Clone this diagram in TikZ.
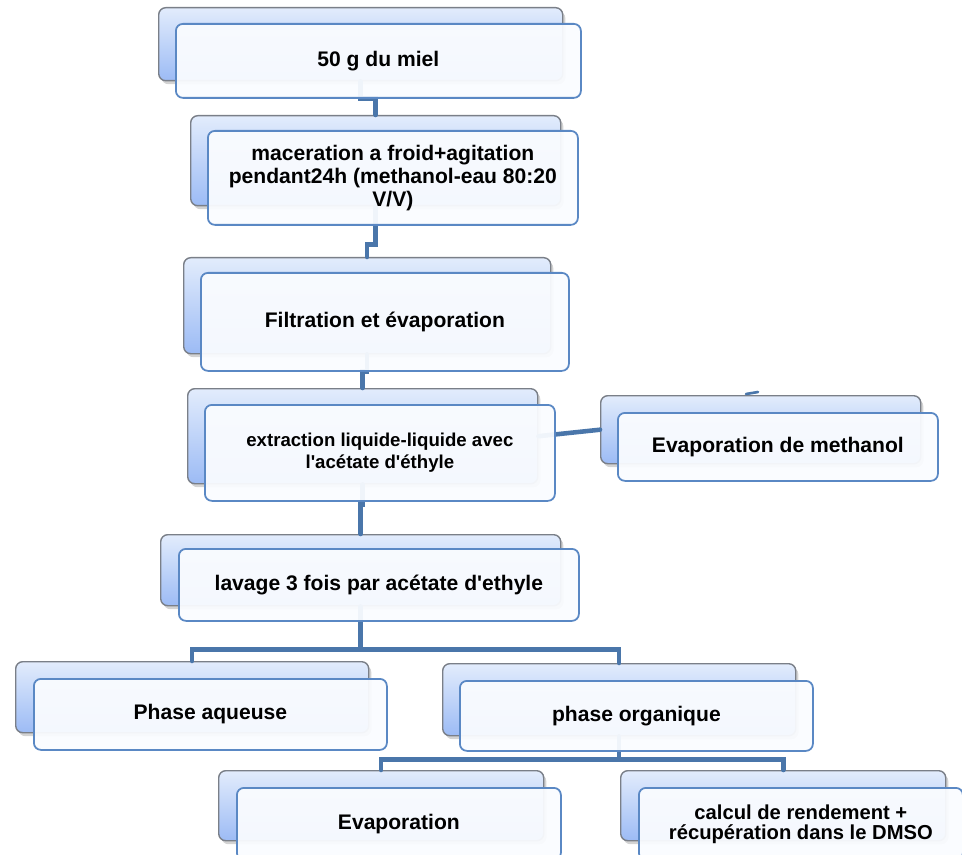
\documentclass[tikz,border=0pt]{standalone}
\usepackage{fontspec}
\setmainfont{Liberation Sans}
\usetikzlibrary{shadows}

\definecolor{linkblue}{HTML}{4A76AA}
\definecolor{frontblue}{HTML}{5A88C4}
\definecolor{frontfill}{HTML}{FAFCFF}
\definecolor{backtop}{HTML}{E2ECFC}
\definecolor{backbot}{HTML}{9CBBF5}
\definecolor{backgray}{HTML}{7A7F88}

\begin{document}
\begin{tikzpicture}[x=0.02cm, y=-0.02cm, line cap=round, line join=miter,
    backbox/.style 2 args={draw=backgray, line width=0.8pt, rounded corners=4pt,
        top color=backtop, bottom color=backbot,
        drop shadow={opacity=0.35, shadow xshift=1.5pt, shadow yshift=-2pt},
        anchor=north west, inner sep=0pt,
        minimum width=#1*0.02cm, minimum height=#2*0.02cm},
    frontbox/.style 2 args={draw=frontblue, line width=1pt, rounded corners=4pt,
        fill=frontfill, fill opacity=0.94, text opacity=1,
        anchor=north west, inner sep=2pt, align=center,
        font=\bfseries\fontsize{12}{13}\selectfont,
        minimum width=#1*0.02cm, minimum height=#2*0.02cm},
    link/.style={draw=linkblue, line width=2.6pt}]

    \useasboundingbox (0,0) rectangle (962,854);
    \clip (0,0) rectangle (962,854);

    % Back boxes
    \node[backbox={404}{73}] (bMiel) at (158,7) {};
    \node[backbox={370}{90}] (bMac) at (190,115) {};
    \node[backbox={367}{96}] (bFil) at (183,257) {};
    \node[backbox={350}{95}] (bExt) at (187,388) {};
    \node[backbox={320}{68}] (bMeth) at (600,395) {};
    \node[backbox={400}{71}] (bLav) at (160,534) {};
    \node[backbox={353}{71}] (bAq) at (15,661) {};
    \node[backbox={353}{72}] (bOrg) at (442,663) {};
    \node[backbox={325}{70}] (bEva) at (218,770) {};
    \node[backbox={325}{70}] (bCal) at (620,770) {};

    % Connectors
    \draw[link] (bMiel.south) -- ++(0,17) -| (bMac.north);
    \draw[link] (bMac.south) -- ++(0,38) -| (bFil.north);
    \draw[link] (bFil.south) -- ++(0,17) -| (bExt.north);
    \draw[link] (bExt.east) -- (bMeth.west);
    \coordinate (stub) at (746,394);
    \draw[link, line width=1.5pt] (stub) -- ++(12,-2);
    \draw[link] (bExt.south) -- ++(0,20) -| (bLav.north);
    \draw[link] (bLav.south) -- ++(0,43) coordinate (split1) -| (bAq.north);
    \draw[link] (split1) -| (bOrg.north);
    \draw[link] (bOrg.south) -- ++(0,23) coordinate (split2) -| (bEva.north);
    \draw[link] (split2) -| (bCal.north);

    % Front boxes
    \node[frontbox={405}{74}] (miel) at (175,23) {50 g du miel};
    \node[frontbox={370}{94}] (mac) at (207,130)
        {maceration a froid+agitation\\pendant24h (methanol-eau 80:20\\V/V)};
    \node[frontbox={368}{98}] (fil) at (200,272) {Filtration et évaporation};
    \node[frontbox={350}{96}, font=\bfseries\fontsize{10.6}{12.5}\selectfont] (ext) at (204,404)
        {extraction liquide-liquide avec\\l\textquotesingle acétate d\textquotesingle éthyle};
    \node[frontbox={320}{68}] (meth) at (617,412) {Evaporation de methanol};
    \node[frontbox={400}{72}] (lav) at (178,548) {lavage 3 fois par acétate d\textquotesingle ethyle};
    \node[frontbox={353}{71}] (aq) at (33,678) {Phase aqueuse};
    \node[frontbox={353}{70}] (org) at (459,680) {phase organique};
    \node[frontbox={324}{72}] (eva) at (236,787) {Evaporation};
    \node[frontbox={324}{72}, font=\bfseries\fontsize{11.5}{11.5}\selectfont] (cal) at (638,787)
        {calcul de rendement +\\récupération dans le DMSO};
\end{tikzpicture}
\end{document}
